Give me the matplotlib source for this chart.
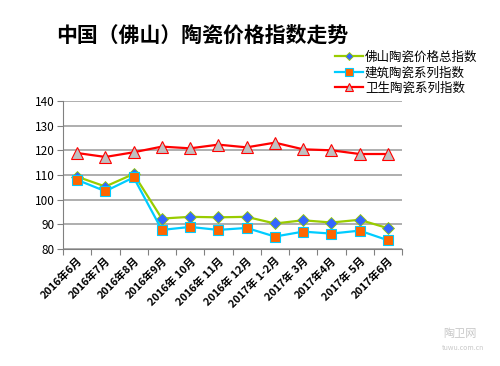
import matplotlib.pyplot as plt
from matplotlib.ticker import FixedLocator

plt.rcParams['font.family'] = ['Noto Sans CJK SC', 'DejaVu Sans']

months = ['2016年6月', '2016年7月', '2016年8月', '2016年9月', '2016年 10月',
          '2016年 11月', '2016年 12月', '2017年 1-2月', '2017年 3月',
          '2017年4月', '2017年 5月', '2017年6月']
total_index = [109.3, 105.3, 110.4, 92.3, 93.0, 92.8, 93.0, 90.3, 91.6, 90.7, 91.8, 88.4]
building_index = [108.0, 103.4, 109.0, 87.7, 88.9, 87.7, 88.5, 85.0, 87.0, 86.2, 87.4, 83.5]
sanitary_index = [118.9, 117.3, 119.2, 121.5, 120.8, 122.3, 121.2, 123.1, 120.4, 120.0, 118.5, 118.5]
series_names = ['佛山陶瓷价格总指数', '建筑陶瓷系列指数', '卫生陶瓷系列指数']

fig = plt.figure(figsize=(5, 3.66), dpi=100)
ax = fig.add_axes([0.126, 0.32, 0.678, 0.404])

x = list(range(len(months)))
ax.plot(x, total_index, color='#99cc00', lw=1.6, marker='D', ms=6,
        mfc='#3366ff', mec='#99cc00', mew=0.6, label=series_names[0], zorder=3)
ax.plot(x, building_index, color='#00ccff', lw=1.6, marker='s', ms=7,
        mfc='#ff6600', mec='#00ccff', mew=0.8, label=series_names[1], zorder=3)
ax.plot(x, sanitary_index, color='#ff0000', lw=1.6, marker='^', ms=8,
        mfc='#c0c0c0', mec='#ff0000', mew=0.8, label=series_names[2], zorder=3)

ax.set_xlim(-0.5, len(months) - 0.5)
ax.set_ylim(80, 140)
ax.set_yticks(range(80, 141, 10))
ax.grid(axis='y', color='#a8a8a8', lw=1.3)
ax.set_axisbelow(True)

ax.xaxis.set_major_locator(FixedLocator([i - 0.5 for i in range(len(months) + 1)]))
ax.xaxis.set_major_formatter(plt.NullFormatter())
ax.xaxis.set_minor_locator(FixedLocator(x))
ax.set_xticklabels(months, minor=True, rotation=45, ha='right',
                   rotation_mode='anchor', fontsize=7.8, fontweight='bold')
ax.tick_params(axis='x', which='major', length=4, color='#808080')
ax.tick_params(axis='x', which='minor', length=0, pad=5)
ax.tick_params(axis='y', length=4, color='#808080', labelsize=8.5, pad=2)

for side in ['top', 'right']:
    ax.spines[side].set_visible(False)
for side in ['left', 'bottom']:
    ax.spines[side].set_color('#808080')

fig.text(0.112, 0.905, '中国（佛山）陶瓷价格指数走势', fontsize=15,
         fontweight='bold', va='center')

fig.legend(loc='upper left', bbox_to_anchor=(0.66, 0.875), frameon=False,
           fontsize=9, handlelength=2.2, handletextpad=0.2, labelspacing=0.2,
           borderaxespad=0, markerscale=0.75)

fig.text(0.92, 0.08, '陶卫网', fontsize=8, color='#c8c8c8', ha='center')
fig.text(0.925, 0.045, 'tuwu.com.cn', fontsize=5, color='#c8c8c8', ha='center')

fig.savefig('out.png', dpi=100)
